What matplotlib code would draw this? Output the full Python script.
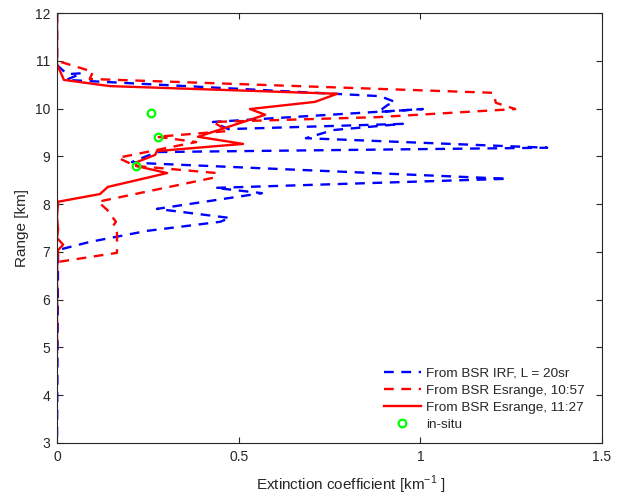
import matplotlib
matplotlib.use("Agg")
import matplotlib.pyplot as plt

plt.rcParams['font.family'] = ['Liberation Sans', 'DejaVu Sans']
plt.rcParams['mathtext.fontset'] = 'custom'
plt.rcParams['mathtext.rm'] = 'Liberation Sans'
plt.rcParams['lines.scale_dashes'] = False

# Extinction profiles (x: extinction [km^-1], y: range [km])
irf_ext = [0.0, 0.0, 0.028, 0.069, 0.025, 0.889, 0.930, 0.911, 0.884, 1.007,
           0.429, 0.471, 0.952, 0.760, 0.685, 1.349, 0.275, 0.206, 0.228,
           1.239, 0.435, 0.564, 0.275, 0.476, 0.449, 0.248, 0.091, 0.003, 0.0]
irf_rng = [12.0, 10.91, 10.72, 10.74, 10.60, 10.26, 10.14, 10.08, 9.93, 9.99,
           9.72, 9.57, 9.68, 9.55, 9.38, 9.18, 9.09, 8.88, 8.86,
           8.53, 8.34, 8.23, 7.90, 7.71, 7.63, 7.44, 7.21, 7.04, 3.0]

esr1057_ext = [0.0, 0.0, 0.099, 0.09, 1.200, 1.208, 1.261, 0.881, 0.429, 0.471,
               0.275, 0.383, 0.168, 0.215, 0.440, 0.429, 0.113, 0.138, 0.162,
               0.154, 0.165, 0.165, 0.003, 0.0, 0.0]
esr1057_rng = [12.0, 11.0, 10.77, 10.62, 10.33, 10.12, 9.99, 9.82, 9.72, 9.53,
               9.41, 9.30, 8.97, 8.80, 8.65, 8.55, 8.05, 7.88, 7.63,
               7.54, 7.40, 6.98, 6.79, 6.71, 4.9]

esr1127_ext = [0.0, 0.0, 0.019, 0.146, 0.771, 0.710, 0.531, 0.573, 0.388, 0.512,
               0.275, 0.270, 0.220, 0.217, 0.303, 0.140, 0.118, 0.003, 0.0,
               0.003, 0.0, 0.017, 0.003, 0.0, 0.0]
esr1127_rng = [12.0, 10.93, 10.60, 10.47, 10.31, 10.14, 9.99, 9.87, 9.41, 9.26,
               9.11, 9.03, 8.88, 8.80, 8.65, 8.36, 8.21, 8.05, 7.73,
               7.46, 7.29, 7.15, 7.04, 6.62, 4.9]

insitu_ext = [0.259, 0.278, 0.217]
insitu_rng = [9.91, 9.41, 8.80]

fig = plt.figure(figsize=(6.30, 4.97), dpi=100)
ax = fig.add_axes([0.0905, 0.1087, 0.8651, 0.8651])

dash = (7, 5.5)
ax.plot(irf_ext, irf_rng, color='#0000ff', lw=1.7, dashes=dash,
        label='From BSR IRF, L = 20sr')
ax.plot(esr1057_ext, esr1057_rng, color='#ff0000', lw=1.7, dashes=dash,
        label='From BSR Esrange, 10:57')
ax.plot(esr1127_ext, esr1127_rng, color='#ff0000', lw=1.7,
        label='From BSR Esrange, 11:27')
ax.plot(insitu_ext, insitu_rng, 'o', mfc='none', mec='#00ff00', mew=1.6,
        ms=5.5, linestyle='none', label='in-situ')

ax.set_xlim(0, 1.5)
ax.set_ylim(3, 12)
ax.set_xticks([0, 0.5, 1, 1.5])
ax.set_xticklabels(['0', '0.5', '1', '1.5'])
ax.set_yticks(range(3, 13))

txt = '#262626'
for s in ax.spines.values():
    s.set_color(txt)
    s.set_linewidth(0.8)
ax.tick_params(direction='in', top=True, right=True, length=4.5, width=0.8,
               colors=txt, labelsize=10, pad=5)
ax.set_xlabel('Extinction coefficient [km$^{-1}$ ]', fontsize=11, color=txt)
ax.xaxis.set_label_coords(0.54, -0.072)
ax.set_ylabel('Range [km]', fontsize=11, color=txt, labelpad=4)

leg = ax.legend(loc='lower right', bbox_to_anchor=(0.968, 0.028), frameon=False,
                fontsize=9.7, handlelength=2.75, handletextpad=0.37,
                labelspacing=0.35, borderpad=0, borderaxespad=0)
for t in leg.get_texts():
    t.set_color(txt)

fig.savefig('out.png', dpi=100)
